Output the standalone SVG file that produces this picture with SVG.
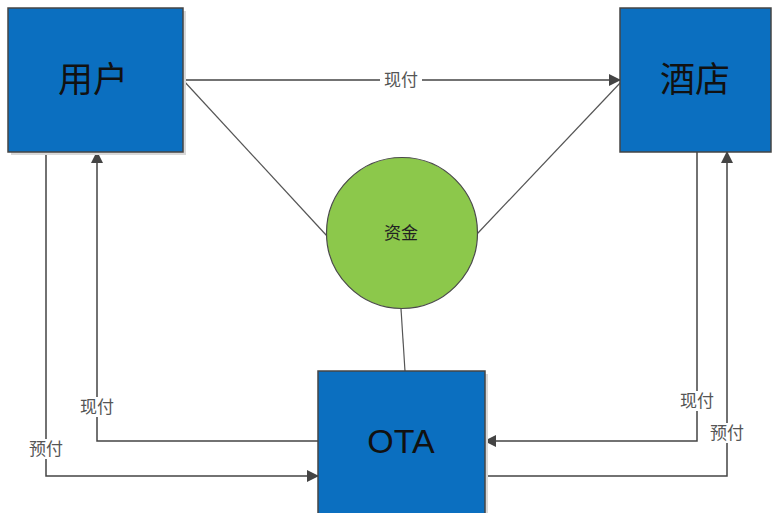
<svg xmlns="http://www.w3.org/2000/svg" width="773" height="513" viewBox="0 0 773 513">
<defs>
<style>
.box{fill:#0B6FC0;stroke:#454545;stroke-width:1.5}
.shadow{fill:#d9d9d9}
.big{font-family:"Noto Sans CJK SC","Liberation Sans",sans-serif;font-size:35px;fill:#111;text-anchor:middle}
.lbl{font-family:"Noto Sans CJK SC","Liberation Sans",sans-serif;font-size:17px;fill:#555;text-anchor:middle}
.conn{fill:none;stroke:#444;stroke-width:1.5}
.thin{fill:none;stroke:#555;stroke-width:1.2}
.bg{fill:#fff}
</style>
<marker id="arr" markerWidth="12" markerHeight="12" refX="11" refY="6" orient="auto" markerUnits="userSpaceOnUse">
<path d="M0,0 L12,6 L0,12 Z" fill="#444"/>
</marker>
</defs>
<rect width="773" height="513" fill="#fff"/>
<g id="connectors">
<line class="conn" x1="183" y1="80" x2="620" y2="80" marker-end="url(#arr)"/>
<line class="thin" x1="183" y1="80" x2="327" y2="236"/>
<line class="thin" x1="477" y1="234" x2="621" y2="82"/>
<line class="thin" x1="401" y1="309" x2="405" y2="371"/>
<polyline class="conn" points="46,152 46,476 318,476" marker-end="url(#arr)"/>
<polyline class="conn" points="318,441 97,441 97,152" marker-end="url(#arr)"/>
<polyline class="conn" points="697,152 697,441 485,441" marker-end="url(#arr)"/>
<polyline class="conn" points="485,476 727,476 727,152" marker-end="url(#arr)"/>
<rect class="bg" x="380" y="70" width="42" height="20"/>
<text class="lbl" x="401" y="86">现付</text>
<rect class="bg" x="76" y="397" width="42" height="20"/>
<text class="lbl" x="97" y="413">现付</text>
<rect class="bg" x="25" y="439" width="42" height="20"/>
<text class="lbl" x="46" y="455">预付</text>
<rect class="bg" x="676" y="391" width="42" height="20"/>
<text class="lbl" x="697" y="407">现付</text>
<rect class="bg" x="706" y="423" width="42" height="20"/>
<text class="lbl" x="727" y="439">预付</text>
</g>
<g id="user">
<rect class="shadow" x="11" y="11" width="175" height="144"/>
<rect class="box" x="8" y="8" width="175" height="144"/>
<text class="big" x="93" y="92">用户</text>
</g>
<g id="hotel">
<rect class="box" x="620" y="8" width="151" height="144"/>
<text class="big" x="695" y="92">酒店</text>
</g>
<g id="fund">
<circle cx="402" cy="233" r="75.5" fill="#8CC84B" stroke="#4a4a4a" stroke-width="1.2"/>
<text class="lbl" x="401" y="239" style="fill:#222">资金</text>
</g>
<g id="ota">
<rect class="shadow" x="321" y="374" width="167" height="150"/>
<rect class="box" x="318" y="371" width="167" height="150"/>
<text x="401" y="453" style="font-family:'Liberation Sans',sans-serif;font-size:34px;fill:#111;text-anchor:middle">OTA</text>
</g>
</svg>
